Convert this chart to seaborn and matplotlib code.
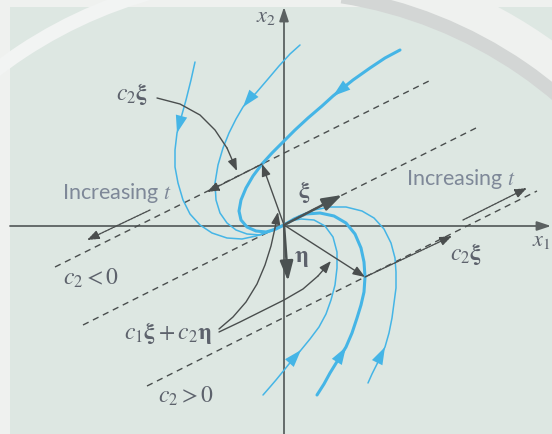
import numpy as np
import pandas as pd
import seaborn as sns
import matplotlib.pyplot as plt
from matplotlib.patches import Rectangle, Wedge

sns.set_theme(style="white")
plt.rcParams["mathtext.fontset"] = "stix"
plt.rcParams["font.family"] = ["DejaVu Sans"]

# Phase-plane coordinates are given in a screen-like frame (x right, y down).
origin = (284, 225)

# Trajectories with c2 < 0, entering from the top (listed in the direction of motion)
traj_a_x = [195, 191, 186, 181, 177, 175, 175, 178, 183, 190, 200, 212, 227, 242, 256, 270, 284]
traj_a_y = [62, 80, 100, 118, 133, 150, 167, 183, 200, 214, 225, 233, 238, 239, 236, 231, 225]
traj_b_x = [300, 290, 279, 268, 256, 247, 243, 236, 229, 223, 218, 215, 216, 220, 227, 236, 247, 260, 272, 284]
traj_b_y = [45, 54, 66, 79, 93, 102, 107, 119, 133, 148, 165, 183, 200, 213, 223, 230, 234, 235, 231, 225]
traj_c_x = [400, 385, 370, 353, 333, 322, 308, 295, 283, 272, 262, 253, 246, 241, 239, 241, 247, 256, 266, 276, 284]
traj_c_y = [50, 58, 68, 80, 96, 106, 118, 130, 142, 153, 164, 176, 188, 200, 211, 220, 227, 231, 232, 229, 225]

# Trajectories with c2 > 0, entering from the bottom
traj_e_x = [263, 270, 276, 285, 293, 301, 310, 319, 326, 331, 335, 337, 337, 333, 325, 314, 301, 290, 284]
traj_e_y = [395, 387, 380, 369, 359, 350, 339, 327, 314, 300, 285, 268, 252, 237, 226, 220, 219, 221, 225]
traj_f_x = [317, 324, 330, 338, 346, 352, 357, 361, 364, 365, 364, 361, 355, 346, 334, 320, 306, 294, 284]
traj_f_y = [395, 384, 373, 360, 347, 333, 318, 305, 292, 277, 262, 248, 234, 223, 216, 213, 214, 219, 225]
traj_g_x = [368, 372, 377, 381, 385, 389, 392, 394, 396, 396, 395, 391, 384, 374, 362, 346, 330, 314, 299, 284]
traj_g_y = [383, 374, 364, 355, 347, 333, 318, 303, 288, 272, 258, 243, 229, 218, 211, 207, 207, 210, 216, 225]

trajectories = [
    (traj_a_x, traj_a_y, 1.1, 4),
    (traj_b_x, traj_b_y, 1.1, 6),
    (traj_c_x, traj_c_y, 2.2, 4),
    (traj_e_x, traj_e_y, 1.1, 5),
    (traj_f_x, traj_f_y, 2.2, 4),
    (traj_g_x, traj_g_y, 1.1, 4),
]

# Dashed lines parallel to xi (end points)
dash_x = [[55, 433], [83, 476], [147, 537]]
dash_y = [[267, 79], [325, 128], [386, 191]]

# Eigenvector and generalized eigenvector tips
xi_tip = (342, 195)
eta_tip = (288, 281)
# Points c1*xi + c2*eta for c2 < 0 and c2 > 0
p_neg = (262, 164)
p_pos = (365, 277)
# c2*xi displacements and "Increasing t" arrows
c2xi_neg_tip = (207, 192)
c2xi_pos_tip = (452, 236)
inc_left = [(150, 210), (87, 240)]
inc_right = [(463, 220), (527, 188)]

# Leader curves from labels
lead_c2xi_x = [157, 180, 200, 215, 227, 237]
lead_c2xi_y = [98, 104, 115, 130, 148, 171]
lead_sum1_x = [219, 233, 246, 257, 265, 271, 275, 278]
lead_sum1_y = [329, 317, 302, 284, 265, 246, 228, 212]
lead_sum2_x = [219, 240, 262, 284, 303, 318, 331]
lead_sum2_y = [332, 322, 311, 300, 289, 276, 261]

blue = "#45b5e6"
axis_gray = "#5b6161"
line_gray = "#4a4e4e"
text_gray = "#5d626c"
inc_gray = "#7e8898"

fig = plt.figure(figsize=(5.52, 4.34), dpi=100)
fig.patch.set_facecolor("#eff1ef")
ax = fig.add_axes([0, 0, 1, 1])
ax.set_facecolor("#eff1ef")

# Background panel with the faint emblem ring
ax.add_patch(Rectangle((10, 7), 542, 427, facecolor="#dde7e2", edgecolor="none", zorder=0))
ax.add_patch(Wedge((273, 431), 480, 280, 340, width=34, facecolor="#eff1ef", edgecolor="none", zorder=0.2))
ax.add_patch(Wedge((273, 431), 447, 279, 330, width=14, facecolor="#d3d6d5", edgecolor="none", zorder=0.3))
ax.add_patch(Wedge((273, 431), 462, 215, 258, width=14, facecolor="#f2f4f3", edgecolor="none", zorder=0.3))

# Coordinate axes
ax.annotate("", xy=(551, 226), xytext=(10, 226),
            arrowprops=dict(arrowstyle="-|>,head_length=0.6,head_width=0.2", color=axis_gray, lw=1.3,
                            shrinkA=0, shrinkB=0, mutation_scale=14), zorder=2)
ax.annotate("", xy=(284, 7), xytext=(284, 434),
            arrowprops=dict(arrowstyle="-|>,head_length=0.6,head_width=0.2", color=axis_gray, lw=1.3,
                            shrinkA=0, shrinkB=0, mutation_scale=14), zorder=2)

# Dashed lines
for xs, ys in zip(dash_x, dash_y):
    sns.lineplot(x=xs, y=ys, ax=ax, color=line_gray, lw=1.0, sort=False, estimator=None,
                 zorder=2).lines[-1].set_dashes((4.5, 3.5))

# Trajectories
for xs, ys, lw, k in trajectories:
    sns.lineplot(x=xs, y=ys, ax=ax, color=blue, lw=lw, sort=False, estimator=None, zorder=3)
    ax.annotate("", xy=(xs[k], ys[k]), xytext=(xs[k - 1], ys[k - 1]),
                arrowprops=dict(arrowstyle="-|>,head_length=0.9,head_width=0.3", color=blue, lw=0,
                                shrinkA=0, shrinkB=0, mutation_scale=14), zorder=4)


def arrow(p0, p1, lw=1.0, ls="-", scale=10, color=line_gray, hl=0.8, hw=0.3):
    ax.annotate("", xy=p1, xytext=p0,
                arrowprops=dict(arrowstyle=f"-|>,head_length={hl},head_width={hw}", color=color, lw=lw,
                                linestyle=ls, shrinkA=0, shrinkB=0, mutation_scale=scale), zorder=5)


# xi and eta
arrow(origin, xi_tip, lw=1.8, scale=10, color="#4b5252", hl=1.2, hw=0.4)
arrow(origin, eta_tip, lw=1.8, scale=10, color="#4b5252", hl=1.2, hw=0.4)
# c1 xi + c2 eta vectors
arrow(origin, p_neg, lw=1.0, scale=9)
arrow(origin, p_pos, lw=1.0, scale=9)
# c2 xi vectors along the dashed lines
arrow(p_neg, c2xi_neg_tip, lw=1.0, ls=(0, (1.5, 0.8)), scale=9)
arrow(p_pos, c2xi_pos_tip, lw=1.0, ls=(0, (1.5, 0.8)), scale=9)
arrow(inc_left[0], inc_left[1], lw=1.0, ls=(0, (1.5, 0.8)), scale=9)
arrow(inc_right[0], inc_right[1], lw=1.0, ls=(0, (1.5, 0.8)), scale=9)

# Leader curves
for xs, ys in [(lead_c2xi_x, lead_c2xi_y), (lead_sum1_x, lead_sum1_y), (lead_sum2_x, lead_sum2_y)]:
    sns.lineplot(x=xs[:-1], y=ys[:-1], ax=ax, color=line_gray, lw=1.0, sort=False, estimator=None, zorder=5)
    arrow((xs[-2], ys[-2]), (xs[-1], ys[-1]), lw=1.0, scale=9)

# Labels
ax.text(266, 17, r"$x_2$", fontsize=16, color=text_gray, ha="center", va="center")
ax.text(551, 241, r"$x_1$", fontsize=16, color=text_gray, ha="right", va="center")
ax.text(304, 192, r"$\mathbf{\xi}$", fontsize=17, color=text_gray, ha="center", va="center")
ax.text(301, 257, r"$\mathbf{\eta}$", fontsize=17, color=text_gray, ha="center", va="center")
ax.text(132, 94, r"$c_2\mathbf{\xi}$", fontsize=17, color=text_gray, ha="center", va="center")
ax.text(466, 254, r"$c_2\mathbf{\xi}$", fontsize=17, color=text_gray, ha="center", va="center")
ax.text(91, 278, r"$c_2 < 0$", fontsize=17, color=text_gray, ha="center", va="center")
ax.text(186, 396, r"$c_2 > 0$", fontsize=17, color=text_gray, ha="center", va="center")
ax.text(168, 333, r"$c_1\mathbf{\xi} + c_2\mathbf{\eta}$", fontsize=17, color=text_gray, ha="center", va="center")
for cx, cy in [(117, 193), (461, 179)]:
    ax.text(cx, cy, r"Increasing $\mathit{t}$", fontsize=15.5, color=inc_gray, ha="center", va="center",
            family=["Lato", "DejaVu Sans"])

ax.set_xlim(0, 552)
ax.set_ylim(434, 0)
ax.axis("off")
fig.savefig("out.png", dpi=100, facecolor=fig.get_facecolor())
